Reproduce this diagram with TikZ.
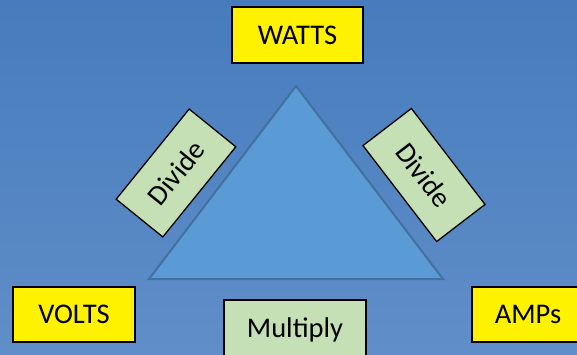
\documentclass[tikz,border=0pt]{standalone}
\usepackage{fontspec}
\setmainfont{Carlito}
\definecolor{bgtop}{RGB}{70,124,189}
\definecolor{bgbot}{RGB}{96,142,200}
\definecolor{trifill}{RGB}{91,155,213}
\definecolor{triedge}{RGB}{65,113,160}
\definecolor{gfill}{RGB}{197,224,180}
\begin{document}
\begin{tikzpicture}[x=1pt,y=-1pt,
  lbl/.style={inner sep=0pt, font=\fontsize{28.5}{30}\selectfont, text=black},
  ybox/.style={lbl, draw=black, line width=1.6pt, fill=yellow},
  gbox/.style={lbl, draw=black, line width=1.3pt, fill=gfill}]
\useasboundingbox (0,0) rectangle (577,354);
\fill[top color=bgtop, bottom color=bgbot] (0,0) rectangle (577,354);
\begin{scope}
\clip (0,0) rectangle (577,354);
\coordinate (apex) at (296,86);
\coordinate (bl) at (149,279);
\coordinate (br) at (443,279);
\draw[fill=trifill, draw=triedge, line width=2pt] (apex) -- (bl) -- (br) -- cycle;
\node[ybox, minimum width=131, minimum height=56] (watts) at (297.5,35) {WATTS};
\node[ybox, minimum width=122, minimum height=55] (volts) at (74,314.5) {VOLTS};
\node[ybox, minimum width=112, minimum height=55] (amps) at (528,314.5) {AMPs};
\node[gbox, minimum width=142, minimum height=60] (mult) at (295,330) {Multiply};
\node[gbox, minimum width=116, minimum height=60, rotate=51] (divl) at (176,173) {Divide};
\node[gbox, minimum width=121, minimum height=61, rotate=-52.5] (divr) at (424,175) {Divide};
\end{scope}
\end{tikzpicture}
\end{document}
